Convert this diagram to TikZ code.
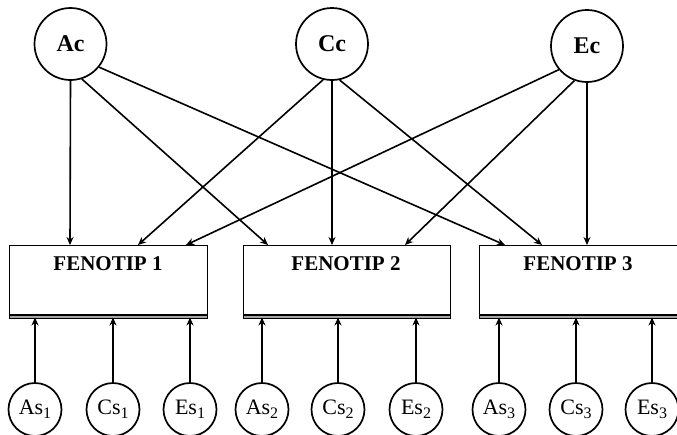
\documentclass[tikz,border=0pt]{standalone}
\usepackage{fontspec}
\setmainfont{Liberation Serif}
\usetikzlibrary{arrows.meta}
\newcommand{\subn}[1]{\raisebox{-4pt}{\fontsize{16}{16}\selectfont #1}}
\begin{document}
\begin{tikzpicture}[x=1pt,y=-1pt,
  toplat/.style={draw,circle,line width=1.7pt,inner sep=0pt,minimum size=72pt,font=\fontsize{24}{24}\selectfont\bfseries},
  botlat/.style={draw,circle,line width=1.7pt,inner sep=0pt,minimum size=53pt,font=\fontsize{22}{22}\selectfont},
  pheno/.style={draw,line width=1.3pt,rectangle,inner sep=0pt,anchor=north west,minimum height=69pt},
  plabel/.style={font=\fontsize{21}{21}\selectfont\bfseries},
  arr/.style={line width=1.6pt,-{Stealth[length=8pt,width=7pt]}},
  strip/.style={draw,line width=1pt,fill=gray!70}]
\useasboundingbox (0,0) rectangle (677,434);
% top latent variables
\node[toplat] (Ac) at (70.5,44) {Ac};
\node[toplat] (Cc) at (332,44) {Cc};
\node[toplat] (Ec) at (587,46) {Ec};
% phenotype boxes
\node[pheno,minimum width=198pt] (B1) at (9,245) {};
\node[pheno,minimum width=207pt] (B2) at (243,245) {};
\node[pheno,minimum width=205pt] (B3) at (479,245) {};
\node[plabel] (L1) at (108,264) {FENOTIP 1};
\node[plabel] (L2) at (346,264) {FENOTIP 2};
\node[plabel] (L3) at (578,264) {FENOTIP 3};
\draw[strip] (B1.south west) rectangle ++(198,3);
\draw[strip] (B2.south west) rectangle ++(207,3);
\draw[strip] (B3.south west) rectangle ++(205,3);
% arrow targets on box tops
\coordinate (t1a) at (70,245);
\coordinate (t1c) at (138,245);
\coordinate (t1e) at (186,245);
\coordinate (t2a) at (268,245);
\coordinate (t2c) at (332,245);
\coordinate (t2e) at (405,245);
\coordinate (t3a) at (505,245);
\coordinate (t3c) at (542,245);
\coordinate (t3e) at (587,245);
\draw[arr] (Ac.-90) -- (t1a);
\draw[arr] (Ac.-72) -- (t2a);
\draw[arr] (Ac.-39) -- (t3a);
\draw[arr] (Cc.-104) -- (t1c);
\draw[arr] (Cc.-90) -- (t2c);
\draw[arr] (Cc.-78) -- (t3c);
\draw[arr] (Ec.-140) -- (t1e);
\draw[arr] (Ec.-110) -- (t2e);
\draw[arr] (Ec.-90) -- (t3e);
% bottom specific variables
\node[botlat] (As1) at (35,409.5) {As\subn{1}};
\node[botlat] (Cs1) at (113,409.5) {Cs\subn{1}};
\node[botlat] (Es1) at (190,409.5) {Es\subn{1}};
\node[botlat] (As2) at (262,409.5) {As\subn{2}};
\node[botlat] (Cs2) at (338,409.5) {Cs\subn{2}};
\node[botlat] (Es2) at (416,409.5) {Es\subn{2}};
\node[botlat] (As3) at (499,409.5) {As\subn{3}};
\node[botlat] (Cs3) at (576,409.5) {Cs\subn{3}};
\node[botlat] (Es3) at (652,409.5) {Es\subn{3}};
\foreach \n/\x in {As1/35,Cs1/113,Es1/190,As2/262,Cs2/338,Es2/416,As3/499,Cs3/576,Es3/652}{
  \coordinate (b\n) at (\x,317.5);
  \draw[arr] (\n) -- (b\n);
}
\end{tikzpicture}
\end{document}
